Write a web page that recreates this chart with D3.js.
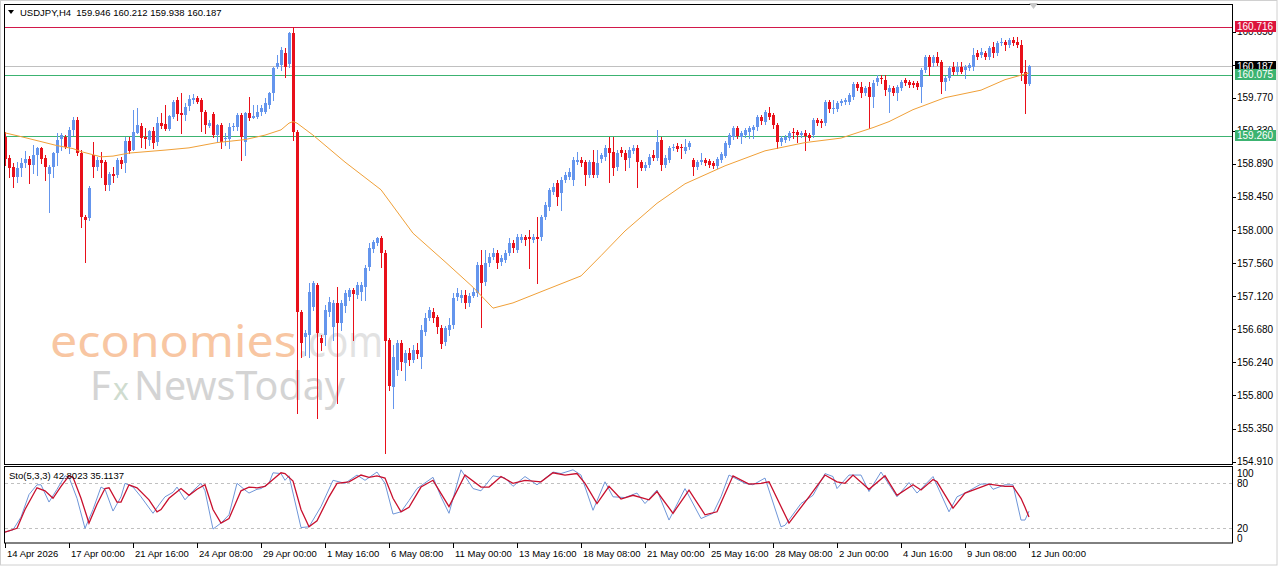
<!DOCTYPE html>
<html>
<head>
<meta charset="utf-8">
<script src="https://cdn.jsdelivr.net/npm/d3@7"></script>
<style>
body { margin: 0; background: #fff; }
svg { display: block; font-family: "Liberation Sans", Arial, sans-serif; }
</style>
</head>
<body>
<svg width="1280" height="567"></svg>
<script>
// USDJPY H4 candles, bar 0 = 14 Apr 2026 08:00, last bar = 12 Jun 2026 00:00
var opens = [
159.25,158.96,158.84,158.71,158.83,158.90,158.95,158.87,159.00,159.10,
158.96,158.74,158.84,159.03,159.21,159.25,159.11,159.34,159.47,159.03,
158.18,158.16,159.00,158.84,158.94,158.91,158.60,158.75,158.74,158.94,
158.90,159.19,159.07,159.30,159.39,159.25,159.21,159.33,159.17,159.43,
159.42,159.35,159.51,159.74,159.57,159.54,159.65,159.74,159.77,159.74,
159.58,159.39,159.55,159.27,159.41,159.21,159.22,159.37,159.38,159.54,
159.18,159.57,159.50,159.51,159.57,159.58,159.67,159.83,160.17,160.21,
160.37,160.21,160.63,159.31,156.91,156.57,156.60,156.98,157.27,156.56,
156.60,156.91,156.71,157.03,156.76,156.98,157.11,157.20,157.14,157.18,
157.24,157.50,157.74,157.83,157.90,157.70,156.53,155.91,156.13,156.49,
156.23,156.36,156.27,156.40,156.31,156.64,156.83,156.91,156.84,156.70,
156.51,156.67,156.74,157.10,157.10,157.14,157.03,157.12,157.16,157.54,
157.30,157.56,157.64,157.70,157.58,157.60,157.70,157.83,157.74,157.87,
157.91,157.91,157.87,157.91,157.91,158.18,158.31,158.51,158.63,158.50,
158.67,158.71,158.67,158.91,158.94,158.91,158.74,158.91,158.74,158.94,
158.98,159.10,159.05,158.84,159.07,159.03,158.96,159.06,159.10,158.91,
158.83,158.87,159.00,158.96,159.21,158.87,158.94,159.10,159.13,159.11,
159.06,159.11,158.94,158.84,158.91,158.94,158.92,158.90,158.86,158.94,
159.00,159.14,159.25,159.37,159.25,159.27,159.31,159.34,159.37,159.51,
159.45,159.57,159.54,159.41,159.17,159.21,159.23,159.31,159.31,159.27,
159.30,159.27,159.27,159.47,159.46,159.43,159.71,159.61,159.62,159.70,
159.71,159.71,159.78,159.95,159.91,159.83,159.91,159.78,159.97,160.03,
160.01,159.85,159.90,159.83,159.90,160.01,159.98,159.97,159.97,159.91,
160.14,160.31,160.23,160.31,160.25,159.98,160.03,160.18,160.11,160.18,
160.14,160.17,160.18,160.37,160.34,160.37,160.31,160.45,160.37,160.50,
160.51,160.47,160.54,160.51,160.47,160.11,159.946];

var highs = [
159.31,159.00,158.90,158.91,158.96,159.06,158.99,159.14,159.11,159.11,
159.00,158.87,159.05,159.30,159.30,159.27,159.38,159.51,159.51,159.07,
158.20,158.59,159.18,158.98,159.05,158.94,158.78,158.84,158.96,158.98,
159.25,159.25,159.61,159.63,159.43,159.37,159.34,159.38,159.51,159.57,
159.67,159.54,159.74,159.78,159.83,159.70,159.81,159.82,159.79,159.77,
159.61,159.47,159.58,159.42,159.43,159.30,159.43,159.43,159.57,159.57,
159.58,159.78,159.67,159.67,159.67,159.77,159.85,160.18,160.34,160.45,
160.43,160.65,160.71,159.34,156.94,156.67,157.30,157.32,157.30,156.60,
157.00,157.11,157.07,157.24,157.07,157.20,157.23,157.23,157.31,157.31,
157.54,157.83,157.87,157.91,157.92,157.74,156.56,156.47,156.53,156.53,
156.40,156.43,156.47,156.49,156.74,156.90,156.98,156.96,156.87,156.74,
156.72,156.83,157.16,157.23,157.20,157.20,157.16,157.23,157.58,157.74,
157.74,157.70,157.76,157.74,157.67,157.74,157.90,157.87,157.95,157.95,
157.94,158.00,157.95,158.18,158.20,158.38,158.56,158.63,158.67,158.71,
158.78,158.83,158.98,159.05,158.98,158.94,158.94,159.07,159.07,159.03,
159.14,159.25,159.25,159.07,159.11,159.07,159.11,159.14,159.14,158.94,
158.91,159.02,159.07,159.34,159.25,159.00,159.13,159.15,159.17,159.15,
159.22,159.19,158.96,158.94,159.03,158.96,158.95,158.92,158.98,159.05,
159.19,159.30,159.39,159.39,159.33,159.37,159.39,159.41,159.54,159.54,
159.61,159.65,159.57,159.43,159.26,159.27,159.33,159.37,159.34,159.33,
159.34,159.30,159.50,159.50,159.49,159.74,159.74,159.74,159.73,159.75,
159.77,159.83,159.98,159.98,159.98,159.93,159.98,160.01,160.07,160.07,
160.07,159.94,159.93,159.94,160.01,160.03,160.01,159.99,159.99,160.17,
160.34,160.34,160.34,160.38,160.27,160.06,160.19,160.25,160.25,160.25,
160.21,160.23,160.43,160.41,160.43,160.39,160.46,160.51,160.53,160.57,
160.54,160.57,160.58,160.58,160.54,160.27,160.212];

var lows = [
158.87,158.71,158.58,158.64,158.72,158.84,158.63,158.76,158.74,158.90,
158.67,158.24,158.71,158.87,159.07,159.10,159.03,159.27,159.00,158.04,
157.58,158.14,158.71,158.80,158.71,158.54,158.54,158.64,158.71,158.83,
158.78,159.03,159.07,159.30,159.11,159.10,159.14,159.10,159.14,159.37,
159.34,159.34,159.50,159.47,159.30,159.47,159.61,159.70,159.70,159.33,
159.30,159.38,159.25,159.18,159.10,159.14,159.10,159.34,159.34,158.94,
159.00,159.47,159.50,159.50,159.54,159.57,159.63,159.74,160.17,160.14,
160.05,160.18,159.21,155.56,156.31,156.33,156.31,156.94,155.49,156.40,
156.47,156.86,156.53,155.69,156.67,156.91,157.07,156.53,157.10,157.07,
157.07,157.47,157.71,157.80,157.51,155.03,155.87,155.63,156.07,156.13,
156.00,156.20,156.24,156.29,156.16,156.60,156.80,156.78,156.63,156.43,
156.47,156.60,156.70,157.07,157.04,156.96,156.99,157.11,157.12,156.71,
157.27,157.52,157.62,157.50,157.54,157.58,157.67,157.71,157.71,157.84,
157.80,157.50,157.84,157.30,157.87,158.15,158.27,158.48,158.34,158.27,
158.64,158.68,158.60,158.88,158.86,158.60,158.71,158.71,158.71,158.91,
158.94,158.64,158.74,158.80,158.99,158.80,158.84,159.03,158.58,158.80,
158.80,158.84,158.94,158.94,158.80,158.84,158.91,159.07,159.06,158.96,
159.03,159.09,158.74,158.82,158.88,158.87,158.84,158.83,158.83,158.91,
158.98,159.11,159.22,159.23,159.17,159.25,159.23,159.23,159.34,159.42,
159.42,159.49,159.37,159.10,159.14,159.18,159.21,159.23,159.18,159.25,
159.07,159.21,159.25,159.41,159.38,159.41,159.58,159.57,159.59,159.67,
159.69,159.69,159.75,159.87,159.78,159.81,159.37,159.65,159.94,159.97,
159.81,159.58,159.81,159.74,159.87,159.94,159.91,159.91,159.89,159.71,
160.11,160.07,160.19,160.21,159.83,159.87,160.01,160.09,160.09,160.10,
160.03,160.14,160.14,160.29,160.31,160.29,160.29,160.31,160.34,160.47,
160.41,160.45,160.47,160.45,160.01,159.57,159.938];

var closes = [
158.96,158.83,158.71,158.83,158.90,158.95,158.87,159.00,159.10,158.95,
158.84,158.84,159.03,159.21,159.27,159.11,159.34,159.47,159.03,158.18,
158.14,158.56,158.84,158.94,158.90,158.60,158.75,158.72,158.94,158.88,
159.19,159.05,159.31,159.41,159.23,159.22,159.33,159.17,159.43,159.39,
159.35,159.53,159.71,159.55,159.54,159.65,159.75,159.77,159.71,159.58,
159.41,159.43,159.27,159.41,159.18,159.23,159.38,159.39,159.54,159.25,
159.57,159.50,159.53,159.58,159.63,159.70,159.83,160.17,160.23,160.41,
160.18,160.63,159.31,156.91,156.49,156.63,157.18,157.30,156.63,156.49,
156.94,157.04,157.03,156.76,157.03,157.16,157.20,157.14,157.27,157.27,
157.50,157.76,157.84,157.90,157.70,156.53,155.91,156.31,156.49,156.23,
156.36,156.27,156.40,156.35,156.67,156.83,156.94,156.83,156.70,156.49,
156.70,156.74,157.10,157.16,157.14,157.03,157.12,157.18,157.54,157.30,
157.56,157.64,157.70,157.56,157.63,157.70,157.83,157.76,157.91,157.91,
157.87,157.88,157.91,157.88,158.18,158.34,158.54,158.58,158.44,158.67,
158.74,158.78,158.94,158.94,158.90,158.74,158.91,158.74,158.90,159.00,
159.10,159.03,158.84,159.03,159.03,158.94,159.07,159.10,158.91,158.83,
158.87,158.98,158.96,159.18,158.87,158.96,159.10,159.11,159.09,159.09,
159.11,159.17,158.84,158.91,158.94,158.90,158.87,158.86,158.95,159.02,
159.17,159.27,159.37,159.26,159.30,159.34,159.37,159.38,159.51,159.45,
159.58,159.51,159.41,159.18,159.23,159.25,159.30,159.29,159.27,159.30,
159.26,159.23,159.47,159.43,159.43,159.71,159.61,159.63,159.70,159.73,
159.74,159.81,159.95,159.90,159.83,159.90,159.77,159.97,160.03,160.01,
159.87,159.90,159.83,159.91,159.98,159.97,159.94,159.94,159.91,160.14,
160.31,160.17,160.31,160.23,159.98,160.03,160.17,160.11,160.18,160.11,
160.18,160.21,160.34,160.31,160.38,160.31,160.43,160.37,160.50,160.51,
160.47,160.54,160.50,160.47,160.10,159.946,160.187];

// moving average at these bars
var maBars = [0,4,10,13,17,19,24,27,31,40,46,53,60,65,69,71,72,73,77,85,94,102,110,117,122,127,135,144,149,155,163,170,180,190,200,209,217,221,227,235,244,250,254,256];
var maValues = [159.30,159.25,159.17,159.13,159.09,159.05,158.98,158.99,159.03,159.07,159.10,159.17,159.21,159.27,159.34,159.43,159.45,159.43,159.27,158.91,158.54,157.96,157.58,157.24,156.96,157.03,157.20,157.39,157.66,157.99,158.36,158.62,158.86,159.06,159.17,159.23,159.37,159.45,159.61,159.77,159.87,160.01,160.07,160.10];

// stochastic main (blue) and signal (red), turning points
var kBars = [0,2,4,6,8,9,11,13,15,16,18,20,22,24,25,27,29,30,32,34,37,39,40,42,43,45,47,49,50,52,54,56,58,60,61,63,64,66,67,69,70,71,74,76,79,82,85,88,90,93,95,97,99,101,103,107,109,111,114,117,119,122,125,127,130,133,137,139,142,144,147,150,152,155,158,160,163,166,170,174,177,179,181,185,187,190,194,195,199,202,205,207,208,211,214,216,219,223,226,228,232,236,238,240,244,246,247,250,252,254,255,256];
var kValues = [15,18,35,65,78,78,55,72,90,88,60,20,45,75,72,43,62,80,75,62,40,55,62,68,75,58,70,80,70,19,27,38,80,71,67,72,73,80,94,93,84,90,21,22,49,84,80,91,84,95,80,39,42,57,73,88,62,40,98,73,70,90,87,76,89,78,95,93,98,91,44,82,62,61,67,53,71,31,73,33,40,62,91,80,78,87,22,24,53,64,93,89,73,91,91,69,95,62,81,67,89,42,62,67,79,79,72,78,78,31,31,42.80];
var dBars = [0,3,5,8,10,12,14,16,17,19,21,23,25,26,28,29,31,33,36,38,39,41,44,46,48,50,52,54,56,59,61,63,65,67,69,70,72,74,76,78,81,83,86,89,91,93,95,97,99,101,104,107,111,115,119,121,124,127,130,134,137,140,143,145,148,151,154,157,161,163,167,171,175,178,182,186,189,191,196,201,205,208,210,212,216,220,223,227,229,232,233,237,240,246,250,252,254,255,256];
var dValues = [15,20,45,74,70,60,76,90,88,60,27,52,73,74,55,55,78,74,58,42,45,60,73,64,72,78,45,27,33,70,75,74,76,85,94,93,83,45,22,30,62,80,82,91,88,90,87,60,42,48,75,84,49,91,75,75,89,80,84,82,94,91,93,80,53,76,59,64,58,69,40,71,38,42,90,79,80,82,27,62,91,82,80,91,72,90,64,78,71,85,82,47,67,79,76,76,60,48,35.11];

// 160.210 sits fully under the last price tag, so only its tick is drawn
var priceTicks = [160.650,160.210,159.770,159.330,158.890,158.450,158.000,157.560,157.120,156.680,156.240,155.800,155.350,154.910];
var priceLabels = [160.650,159.770,159.330,158.890,158.450,158.000,157.560,157.120,156.680,156.240,155.800,155.350,154.910];
var stoTicks = [100, 80, 20, 0];
var timeBars = [0,16,32,48,64,80,96,112,128,144,160,176,192,208,224,240,256];
var timeTexts = ["14 Apr 2026","17 Apr 00:00","21 Apr 16:00","24 Apr 08:00","29 Apr 00:00","1 May 16:00","6 May 08:00","11 May 00:00","13 May 16:00","18 May 08:00","21 May 00:00","25 May 16:00","28 May 08:00","2 Jun 00:00","4 Jun 16:00","9 Jun 08:00","12 Jun 00:00"];

var levelPrices = [160.716, 160.075, 159.260];
var levelColors = ["#d2184a", "#3cb371", "#3cb371"];
var labelColors = ["#dc143c", "#3cb371", "#3cb371"];
var lastPrice = 160.187;

var plot = {left: 4, right: 1232, top: 4, bottom: 464};
var stoBox = {top: 467, bottom: 543};
var bull = "#6495ed", bear = "#e8101a";

var svg = d3.select("svg");

var scX = d3.scaleLinear().domain([0, 256]).range([5, 1029]);
var scY = d3.scaleLinear().domain([154.91, 160.716]).range([461.7, 26.8]);
var scS = d3.scaleLinear().domain([0, 100]).range([543.3, 468.3]);
var crisp = v => Math.round(v) + 0.5;

// window frame and the two panels
svg.append("rect").attr("x", 0.5).attr("y", 0.5).attr("width", 1276.5).attr("height", 564.5)
    .attr("fill", "none").attr("stroke", "#d0d0d0");

svg.append("clipPath").attr("id", "clipMain")
    .append("rect").attr("x", plot.left + 1).attr("y", plot.top + 1)
    .attr("width", plot.right - plot.left - 1).attr("height", plot.bottom - plot.top - 1);

// watermark sits under everything
var wm = svg.append("g").attr("id", "watermark").attr("font-family", "'Noto Sans', sans-serif");
wm.append("text").attr("x", 50).attr("y", 357)
    .attr("font-size", 44)
    .attr("textLength", 247).attr("lengthAdjust", "spacingAndGlyphs")
    .attr("fill", "#f8c6a2").text("economies");
wm.append("text").attr("x", 298).attr("y", 357)
    .attr("font-size", 44)
    .attr("textLength", 85).attr("lengthAdjust", "spacingAndGlyphs")
    .attr("fill", "#e2e2e2").text(".com");
wm.append("text").attr("x", 90).attr("y", 400)
    .attr("font-size", 40)
    .attr("fill", "#d4d4d4").text("F");
wm.append("text").attr("x", 113).attr("y", 400)
    .attr("font-size", 30)
    .attr("fill", "#cfdccf").text("x");
wm.append("text").attr("x", 134).attr("y", 400)
    .attr("font-size", 40)
    .attr("textLength", 211).attr("lengthAdjust", "spacingAndGlyphs")
    .attr("fill", "#d4d4d4").text("NewsToday");

var chart = svg.append("g").attr("clip-path", "url(#clipMain)");

// horizontal levels and the last price line
chart.append("line")
    .attr("x1", plot.left).attr("x2", plot.right)
    .attr("y1", crisp(scY(lastPrice))).attr("y2", crisp(scY(lastPrice)))
    .attr("stroke", "#c0c0c0");

chart.selectAll(".level")
    .data(levelPrices).enter()
    .append("line").attr("class", "level")
    .attr("x1", plot.left).attr("x2", plot.right)
    .attr("y1", d => crisp(scY(d))).attr("y2", d => crisp(scY(d)))
    .attr("stroke", (d, i) => levelColors[i]);

// candles
var bars = chart.append("g").attr("id", "candles")
    .selectAll("g")
    .data(d3.range(closes.length)).enter()
    .append("g")
    .attr("fill", i => closes[i] >= opens[i] ? bull : bear)
    .attr("stroke", i => closes[i] >= opens[i] ? bull : bear);

bars.append("line")
    .attr("x1", i => scX(i) + 0.5).attr("x2", i => scX(i) + 0.5)
    .attr("y1", i => Math.round(scY(highs[i]))).attr("y2", i => Math.round(scY(lows[i])) + 1);

bars.append("rect")
    .attr("stroke", "none")
    .attr("x", i => scX(i) - 1).attr("width", 3)
    .attr("y", i => Math.round(scY(Math.max(opens[i], closes[i]))))
    .attr("height", i => Math.max(1, Math.round(Math.abs(scY(opens[i]) - scY(closes[i])))));

// moving average
var maLine = d3.line()
    .x((d, j) => scX(maBars[j]))
    .y(d => scY(d));

chart.append("path")
    .attr("fill", "none").attr("stroke", "#f0a038").attr("stroke-width", 1)
    .attr("d", maLine(maValues));

// panel borders
svg.append("rect")
    .attr("x", plot.left + 0.5).attr("y", plot.top + 0.5)
    .attr("width", plot.right - plot.left).attr("height", plot.bottom - plot.top)
    .attr("fill", "none").attr("stroke", "#000");

svg.append("rect")
    .attr("x", plot.left + 0.5).attr("y", stoBox.top - 0.5)
    .attr("width", plot.right - plot.left).attr("height", stoBox.bottom - stoBox.top + 0.5)
    .attr("fill", "none").attr("stroke", "#000");

// header
svg.append("path").attr("d", "M8,10 L14,10 L11,14 Z").attr("fill", "#000");
svg.append("text").attr("x", 20).attr("y", 16)
    .attr("font-size", 9.5).attr("fill", "#000")
    .style("white-space", "pre")
    .text("USDJPY,H4  159.946 160.212 159.938 160.187");

// shift marker
svg.append("path").attr("d", "M1029,3 L1038,3 L1033.5,9 Z").attr("fill", "#c8c8c8");

// price axis
var axis = svg.append("g").attr("id", "priceAxis");
axis.selectAll("line")
    .data(priceTicks).enter()
    .append("line")
    .attr("x1", plot.right).attr("x2", plot.right + 4)
    .attr("y1", d => crisp(scY(d))).attr("y2", d => crisp(scY(d)))
    .attr("stroke", "#000");
axis.selectAll("text")
    .data(priceLabels).enter()
    .append("text")
    .attr("x", 1237).attr("y", d => scY(d) + 3.5)
    .attr("font-size", 10).attr("fill", "#000")
    .text(d => d.toFixed(3));

// price tags on the axis
function tag(price, bg) {
    var cy = scY(price);
    svg.append("rect").attr("x", 1235).attr("y", Math.round(cy - 5.5))
        .attr("width", 41).attr("height", 11).attr("fill", bg);
    svg.append("text").attr("x", 1237).attr("y", cy + 3.5)
        .attr("font-size", 10).attr("fill", "#fff")
        .text(price.toFixed(3));
}
tag(lastPrice, "#000");
levelPrices.forEach((p, i) => tag(p, labelColors[i]));

// stochastic panel
var sto = svg.append("g").attr("id", "stoch");

sto.selectAll(".lvl")
    .data([80, 20]).enter()
    .append("line").attr("class", "lvl")
    .attr("x1", plot.left + 1).attr("x2", plot.right)
    .attr("y1", d => crisp(scS(d))).attr("y2", d => crisp(scS(d)))
    .attr("stroke", "#c0c0c0").attr("stroke-dasharray", "3,3");

var kLine = d3.line().x((d, j) => scX(kBars[j])).y(d => scS(d));
var dLine = d3.line().x((d, j) => scX(dBars[j])).y(d => scS(d));

sto.append("path")
    .attr("fill", "none").attr("stroke", "#6f96d8").attr("stroke-width", 1)
    .attr("d", kLine(kValues));
sto.append("path")
    .attr("fill", "none").attr("stroke", "#c8102e").attr("stroke-width", 1.3)
    .attr("d", dLine(dValues));

sto.append("text").attr("x", 9).attr("y", 479)
    .attr("font-size", 9.5).attr("fill", "#000")
    .text("Sto(5,3,3) 42.8023 35.1137");

sto.selectAll(".stoLab")
    .data(stoTicks).enter()
    .append("text").attr("class", "stoLab")
    .attr("x", 1237)
    .attr("y", d => d === 100 ? 476.5 : d === 0 ? 541.5 : scS(d) + 3.5)
    .attr("font-size", 10).attr("fill", "#000")
    .text(d => d);

// time axis
var tAxis = svg.append("g").attr("id", "timeAxis");
tAxis.selectAll("line")
    .data(timeBars).enter()
    .append("line")
    .attr("x1", d => scX(d) + 0.5).attr("x2", d => scX(d) + 0.5)
    .attr("y1", stoBox.bottom).attr("y2", stoBox.bottom + 5)
    .attr("stroke", "#000");
tAxis.selectAll("text")
    .data(timeBars).enter()
    .append("text")
    .attr("x", d => scX(d) + 2).attr("y", 557)
    .attr("font-size", 9.5).attr("fill", "#000")
    .text((d, i) => timeTexts[i]);
</script>
</body>
</html>
